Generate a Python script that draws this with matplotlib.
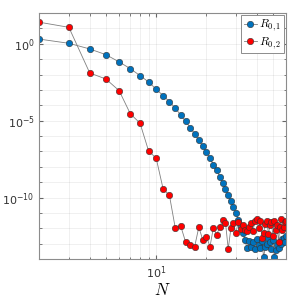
import matplotlib
matplotlib.use("Agg")
import matplotlib.pyplot as plt
import matplotlib.ticker as mticker
import numpy as np

N = list(range(2, 61))

R01 = [2.0, 1.07, 0.46, 0.195, 0.066, 0.024, 0.0085, 0.0033, 1.1e-3, 4.3e-4,
       1.7e-4, 6.5e-5, 2.4e-5, 9.3e-6, 3.5e-6, 1.4e-6, 5.6e-7, 2.3e-7, 9.3e-8, 3.6e-8,
       1.4e-8, 5.8e-9, 2.3e-9, 9.5e-10, 3.7e-10, 1.5e-10, 6.2e-11, 2.5e-11, 1.0e-11, 3.5e-12,
       1.4e-12, 5.0e-13, 1.8e-13, 5.0e-14, 1.6e-13, 6.3e-14, 1.3e-13, 4.5e-14, 2.0e-13, 8.9e-14,
       5.0e-14, 1.4e-13, 1.3e-14, 6.3e-14, 1.0e-13, 2.5e-13, 1.3e-13, 4.5e-14, 1.8e-13, 1.3e-14,
       4.0e-14, 7.9e-14, 5.0e-14, 1.3e-13, 1.0e-13, 2.0e-13, 2.5e-13, 1.3e-13, 3.2e-13]

R02 = [25.0, 11.7, 0.0126, 5.1e-3, 8.9e-4, 2.8e-5, 6.9e-6, 1.1e-7, 3.6e-8, 3.7e-10,
       1.4e-10, 1.1e-12, 1.5e-12, 1.3e-13, 8.7e-14, 6.6e-14, 1.2e-12, 1.8e-13, 2.8e-13, 6.6e-14,
       1.1e-12, 3.8e-13, 1.2e-12, 3.6e-12, 2.4e-12, 4.5e-14, 1.0e-12, 2.2e-12, 5.0e-13, 2.5e-12,
       8.9e-13, 1.6e-12, 7.9e-13, 6.3e-13, 1.3e-12, 2.2e-12, 6.3e-13, 3.2e-12, 4.0e-12, 1.0e-12,
       3.2e-12, 2.5e-13, 5.0e-13, 2.0e-12, 3.2e-12, 4.0e-13, 1.6e-12, 2.5e-12, 3.2e-13, 3.2e-12,
       7.9e-13, 1.6e-12, 1.3e-13, 1.3e-12, 4.0e-12, 7.9e-13, 1.3e-12, 2.5e-12, 3.2e-12]

labels = [r"$R_{0,1}$", r"$R_{0,2}$"]
ytick_vals = [1e-10, 1e-5, 1e0]

plt.rcParams['mathtext.fontset'] = 'cm'

fig = plt.figure(figsize=(2.99, 3.02), dpi=100)
ax = fig.add_axes([0.132, 0.142, 0.825, 0.815])

line_kw = dict(color=(0.5, 0.5, 0.5), lw=0.6, marker='o', ms=4.6,
               mec=(0.2, 0.2, 0.2), mew=0.4)
ax.plot(N, R01, mfc='#0072BD', label=labels[0], **line_kw)
ax.plot(N, R02, mfc='#FF0000', label=labels[1], **line_kw)

ax.set_xscale('log')
ax.set_yscale('log')
ax.set_xlim(2, 60)
ax.set_ylim(1e-14, 1e2)

ax.yaxis.set_major_locator(mticker.FixedLocator(ytick_vals))
ax.yaxis.set_minor_locator(mticker.LogLocator(base=10, subs=(1.0,), numticks=30))
ax.yaxis.set_minor_formatter(mticker.NullFormatter())
ax.xaxis.set_major_locator(mticker.FixedLocator([10]))
ax.xaxis.set_minor_locator(mticker.LogLocator(base=10, subs=np.arange(2, 10), numticks=30))
ax.xaxis.set_minor_formatter(mticker.NullFormatter())

ax.grid(True, which='both', color=(0.15, 0.15, 0.15), alpha=0.08, lw=0.6)
ax.tick_params(which='both', direction='in', top=True, right=True,
               color=(0.4, 0.4, 0.4), labelsize=8, labelcolor=(0.2, 0.2, 0.2))
ax.tick_params(which='major', length=3)
ax.tick_params(which='minor', length=1.8)
for s in ax.spines.values():
    s.set_color((0.55, 0.55, 0.55))
    s.set_linewidth(0.8)

ax.set_xlabel(r"$N$", fontsize=12, labelpad=0)

leg = ax.legend(loc='upper right', fontsize=8.5, fancybox=False, framealpha=1,
                edgecolor=(0.55, 0.55, 0.55), handlelength=1.1, handletextpad=0.2,
                borderpad=0.2, labelspacing=0.15, borderaxespad=0.2)
leg.get_frame().set_linewidth(0.7)

fig.savefig("out.png", dpi=100)
